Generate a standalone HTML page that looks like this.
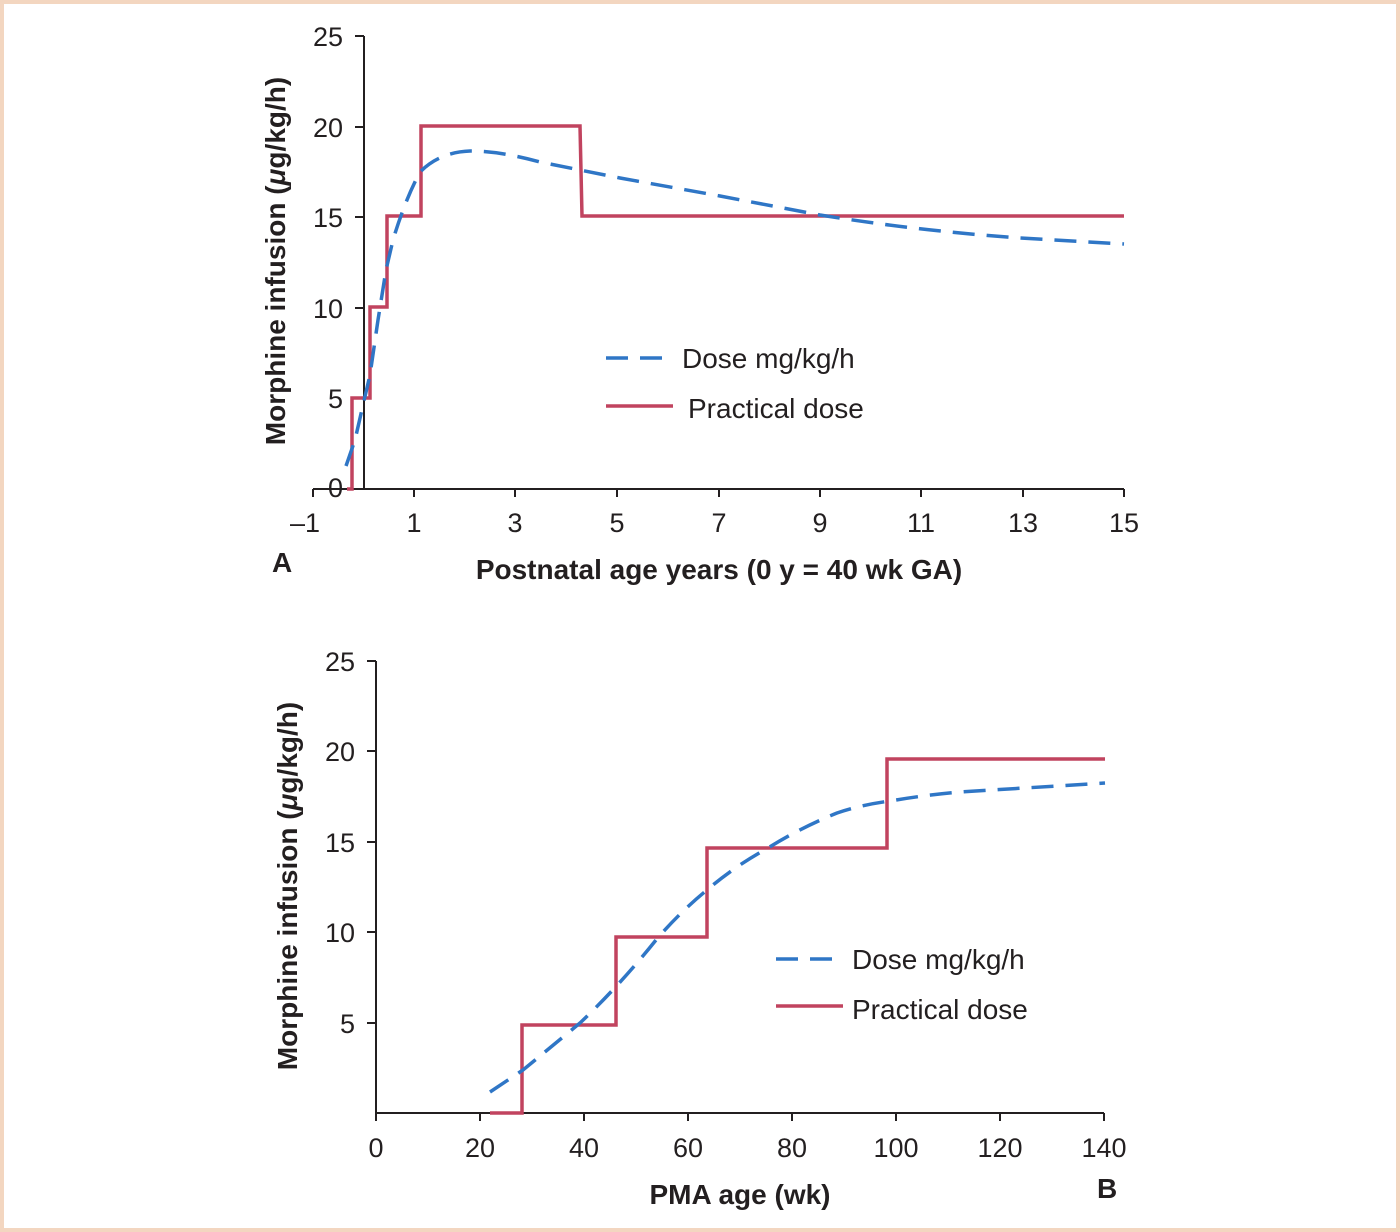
<!DOCTYPE html>
<html><head><meta charset="utf-8"><style>
html,body{margin:0;padding:0;background:#fff}
svg{display:block}
text{font-family:"Liberation Sans",sans-serif;fill:#231f20}
</style></head><body>
<svg width="1400" height="1232" viewBox="0 0 1400 1232" xmlns="http://www.w3.org/2000/svg">
<rect x="2" y="2" width="1396" height="1228" fill="#fff" stroke="#f3d6c0" stroke-width="4"/>
<g stroke="#231f20" stroke-width="2" fill="none">
<path d="M364 36 V489 M313 489 H1124"/>
<path d="M355 36 H364 M355 127 H364 M355 217 H364 M355 308 H364 M355 398 H364 M355 489 H364"/>
<path d="M313 489 v8 M414 489 v8 M515 489 v8 M617 489 v8 M719 489 v8 M820 489 v8 M921 489 v8 M1023 489 v8 M1124 489 v8"/>
<path d="M376 661 V1113 H1104"/>
<path d="M367 661 H376 M367 751 H376 M367 842 H376 M367 932 H376 M367 1023 H376"/>
<path d="M376 1113 v8 M480 1113 v8 M584 1113 v8 M688 1113 v8 M792 1113 v8 M896 1113 v8 M1000 1113 v8 M1104 1113 v8"/>
</g>
<g font-size="27" text-anchor="end">
<text x="343" y="46">25</text><text x="343" y="137">20</text><text x="343" y="227">15</text><text x="343" y="318">10</text><text x="343" y="408">5</text><text x="343" y="497">0</text>
<text x="355" y="671">25</text><text x="355" y="761">20</text><text x="355" y="852">15</text><text x="355" y="942">10</text><text x="355" y="1033">5</text>
</g>
<g font-size="27" text-anchor="middle">
<text x="305" y="532">–1</text><text x="414" y="532">1</text><text x="515" y="532">3</text><text x="617" y="532">5</text><text x="719" y="532">7</text><text x="820" y="532">9</text><text x="921" y="532">11</text><text x="1023" y="532">13</text><text x="1124" y="532">15</text>
<text x="376" y="1157">0</text><text x="480" y="1157">20</text><text x="584" y="1157">40</text><text x="688" y="1157">60</text><text x="792" y="1157">80</text><text x="896" y="1157">100</text><text x="1000" y="1157">120</text><text x="1104" y="1157">140</text>
</g>
<g font-size="28" font-weight="bold">
<text x="719" y="579" text-anchor="middle">Postnatal age years (0 y = 40 wk GA)</text>
<text x="272" y="572">A</text>
<text x="740" y="1204" text-anchor="middle">PMA age (wk)</text>
<text x="1097" y="1198">B</text>
<text transform="translate(285,261) rotate(-90)" text-anchor="middle">Morphine infusion (<tspan font-style="italic">μ</tspan>g/kg/h)</text>
<text transform="translate(297,886) rotate(-90)" text-anchor="middle">Morphine infusion (<tspan font-style="italic">μ</tspan>g/kg/h)</text>
</g>
<g fill="none" stroke-width="3.5">
<path stroke="#c1435f" d="M347 489 H352 V398 H370 V307 H387 V216 H421 V126 H580 L582 216 H1124"/>
<path stroke="#2f76c6" stroke-dasharray="22 12" d="M346 466 L355 440 L363 405 L370 375 L378 320 L386 270 L393 240 Q405 200 420 172 Q440 152 470 151 Q500 151 540 162 L580 170 L620 178 L720 196 L820 215 Q920 231 1020 238 L1124 244"/>
<path stroke="#c1435f" d="M490 1113 H522 V1025 H616 V937 H707 V848 H887 V759 H1105"/>
<path stroke="#2f76c6" stroke-dasharray="22 12" d="M490 1092 L523 1070 L580 1023 Q620 985 656 940 Q680 912 707 890 Q735 866 768 848 Q800 828 837 813 Q860 805 890 801 Q925 795 960 792 L1105 783"/>
<path stroke="#2f76c6" stroke-dasharray="22 12" d="M606 358 H673"/>
<path stroke="#c1435f" d="M606 406 H673"/>
<path stroke="#2f76c6" stroke-dasharray="22 12" d="M776 959 H843"/>
<path stroke="#c1435f" d="M776 1006 H843"/>
</g>
<g font-size="28">
<text x="682" y="368">Dose mg/kg/h</text>
<text x="688" y="418">Practical dose</text>
<text x="852" y="969">Dose mg/kg/h</text>
<text x="852" y="1019">Practical dose</text>
</g>
</svg>
</body></html>
